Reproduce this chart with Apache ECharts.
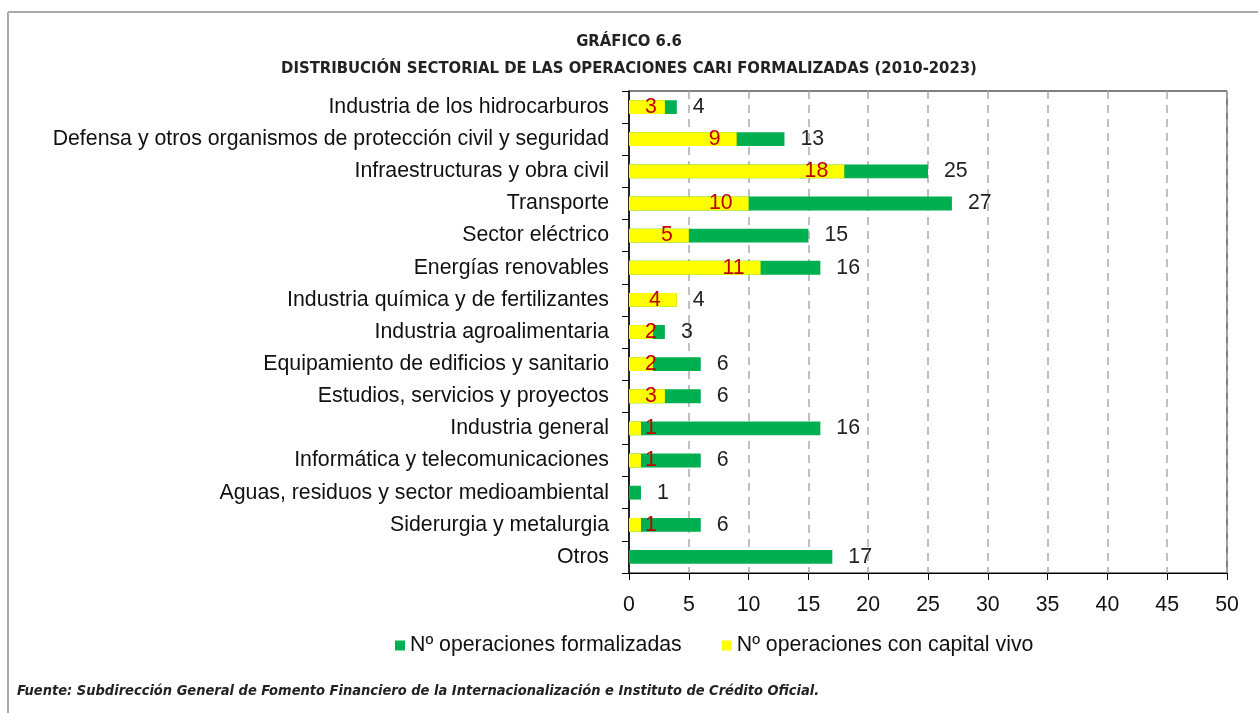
<!DOCTYPE html>
<html>
<head>
<meta charset="utf-8">
<script src="https://cdn.jsdelivr.net/npm/echarts@6/dist/echarts.min.js"></script>
<style>
  html, body { margin: 0; padding: 0; background: #fff; }
  #main { width: 1258px; height: 713px; }
</style>
</head>
<body>
<div id="main"></div>
<script>
// data
var sectores = [
  "Industria de los hidrocarburos",
  "Defensa y otros organismos de protección civil y seguridad",
  "Infraestructuras y obra civil",
  "Transporte",
  "Sector eléctrico",
  "Energías renovables",
  "Industria química y de fertilizantes",
  "Industria agroalimentaria",
  "Equipamiento de edificios y sanitario",
  "Estudios, servicios y proyectos",
  "Industria general",
  "Informática y telecomunicaciones",
  "Aguas, residuos y sector medioambiental",
  "Siderurgia y metalurgia",
  "Otros"
];
var formalizadas = [4, 13, 25, 27, 15, 16, 4, 3, 6, 6, 16, 6, 1, 6, 17];
var capitalVivo = [3, 9, 18, 10, 5, 11, 4, 2, 2, 3, 1, 1, null, 1, null];
var xTicks = [0, 5, 10, 15, 20, 25, 30, 35, 40, 45, 50];

void (function() {
  var chart = echarts.init(document.getElementById("main"));
  var font = "Liberation Sans, Arial, sans-serif";
  var narrow = "DejaVu Sans Condensed, Liberation Sans Narrow, sans-serif";

  // red labels: inside end, but kept at least 16px off the axis
  var vivoData = capitalVivo.map(function(v) {
    if (v == null) return null;
    var item = { value: v };
    if (v <= 3) {
      item.label = { position: "insideLeft", distance: 16 };
    }
    return item;
  });

  var option = {
    backgroundColor: "#fff",
    animation: false,
    textStyle: { fontFamily: font },
    title: [
      {
        text: "GRÁFICO 6.6",
        left: "center",
        top: 28,
        textStyle: { fontFamily: narrow, fontSize: 16.5, fontWeight: "bold", color: "#222" }
      },
      {
        text: "DISTRIBUCIÓN SECTORIAL DE LAS OPERACIONES CARI FORMALIZADAS (2010-2023)",
        left: "center",
        top: 55,
        textStyle: { fontFamily: narrow, fontSize: 16.5, fontWeight: "bold", color: "#222" }
      },
      {
        text: "Fuente: Subdirección General de Fomento Financiero de la Internacionalización e Instituto de Crédito Oficial.",
        left: 12,
        top: 679,
        textStyle: { fontFamily: narrow, fontSize: 14.5, fontWeight: "bold", fontStyle: "italic", color: "#222" }
      }
    ],
    graphic: [
      { type: "line", shape: { x1: 8, y1: 12, x2: 1258, y2: 12 }, style: { stroke: "#aaa", lineWidth: 2 } },
      { type: "line", shape: { x1: 8, y1: 12, x2: 8, y2: 713 }, style: { stroke: "#aaa", lineWidth: 2 } }
    ],
    legend: {
      data: ["Nº operaciones formalizadas", "Nº operaciones con capital vivo"],
      top: 630,
      left: 390,
      itemWidth: 10,
      itemHeight: 10,
      itemGap: 40,
      icon: "rect",
      textStyle: { fontFamily: font, fontSize: 21.3, color: "#111" }
    },
    grid: {
      left: 629,
      right: 31,
      top: 91,
      bottom: 140,
      show: true,
      borderColor: "#000",
      borderWidth: 1
    },
    xAxis: {
      type: "value",
      min: xTicks[0],
      max: xTicks[xTicks.length - 1],
      interval: 5,
      axisLine: { show: true, lineStyle: { color: "#000" } },
      axisTick: { show: true, length: 7, lineStyle: { color: "#000" } },
      axisLabel: { fontSize: 21.3, color: "#111", margin: 22 },
      splitLine: { show: true, lineStyle: { color: "#aaa", type: [8, 6], width: 1.5 } }
    },
    yAxis: {
      type: "category",
      data: sectores,
      inverse: true,
      axisLine: { show: true, lineStyle: { color: "#000", width: 1.5 } },
      axisTick: { show: true, length: 7, lineStyle: { color: "#000" } },
      axisLabel: { fontSize: 21.3, color: "#111", margin: 20 }
    },
    series: [
      {
        name: "Nº operaciones formalizadas",
        type: "bar",
        data: formalizadas,
        barWidth: "43%",
        barGap: "-100%",
        itemStyle: { color: "#00B050" },
        label: {
          show: true,
          position: "right",
          distance: 16,
          fontSize: 21.3,
          color: "#222"
        }
      },
      {
        name: "Nº operaciones con capital vivo",
        type: "bar",
        data: vivoData,
        barWidth: "43%",
        itemStyle: { color: "#FFFF00" },
        label: {
          show: true,
          position: "insideRight",
          distance: 16,
          fontSize: 21.3,
          color: "#C00000"
        }
      }
    ]
  };

  chart.setOption(option);
})();
</script>
</body>
</html>
